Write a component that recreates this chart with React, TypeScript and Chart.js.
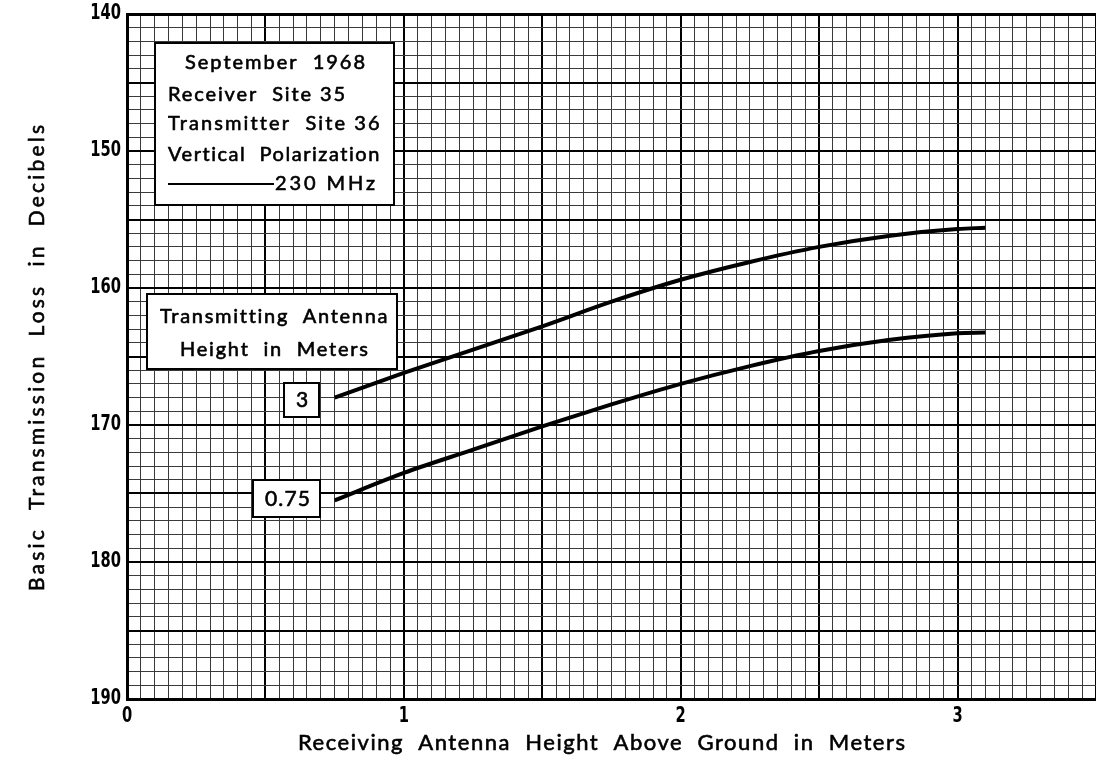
import React, { useEffect, useRef } from "react";
import { Chart, registerables } from "chart.js";

Chart.register(...registerables);

// ---------------- DATA ----------------
const receiverHeights = [0.75, 1.0, 1.25, 1.5, 1.75, 2.0, 2.25, 2.5, 2.75, 3.0, 3.1];
const lossTx3m = [168.0, 166.2, 164.5, 162.8, 161.0, 159.4, 158.1, 157.0, 156.2, 155.7, 155.6];
const lossTx075m = [175.5, 173.5, 171.8, 170.1, 168.5, 167.0, 165.7, 164.6, 163.8, 163.3, 163.25];
const seriesNames = ["3", "0.75"];
const infoLines = ["September  1968", "Receiver  Site 35", "Transmitter  Site 36", "Vertical  Polarization"];
const frequencyLabel = "230 MHz";
const legendTitleLines = ["Transmitting  Antenna", "Height  in  Meters"];
const xTitle = "Receiving  Antenna  Height  Above  Ground  in  Meters";
const yTitle = "Basic  Transmission  Loss  in  Decibels";
const xRange = [0, 3.5];
const yRange = [140, 190];
const xLabelValues = [0, 1, 2, 3];
const yLabelValues = [140, 150, 160, 170, 180, 190];

// ---------------- LAYOUT / STYLE ----------------
const W = 1096;
const H = 762;
const FONT = "'Lato', 'Open Sans', 'DejaVu Sans', sans-serif";
const NUM_FONT = "'DejaVu Sans', 'Liberation Sans', sans-serif";

const LAYOUT = {
  plotLeft: 127,
  plotTop: 14,
  plotBottom: 699,
  yLabelRight: 121,
  xLabelY: 717,
  numSize: 21,
  numSqueeze: 0.7,
  xTitle: { x: 298, y: 743, w: 607, size: 22 },
  yTitle: { x: 37, y: 358, w: 466, size: 21 },
  infoBox: { x0: 155, y0: 43, x1: 394, y1: 205 },
  infoText: [
    { x: 185, y: 63, w: 180 },
    { x: 168, y: 95, w: 177 },
    { x: 168, y: 124, w: 211 },
    { x: 168, y: 155, w: 212 },
  ],
  freqLine: { x0: 168, x1: 274, y: 184 },
  freqText: { x: 275, y: 184, w: 100 },
  legendBox: { x0: 147, y0: 294, x1: 397, y1: 369 },
  legendText: [
    { x: 160, y: 317, w: 227 },
    { x: 180, y: 350, w: 188 },
  ],
  tagBoxes: [
    { x0: 284, y0: 383, x1: 319, y1: 417, tx: 296, ty: 400, tw: 12 },
    { x0: 253, y0: 480, x1: 320, y1: 517, tx: 265, ty: 499, tw: 45 },
  ],
  textSize: 20,
  textStroke: 0.6,
};

function near(v: number, step: number) {
  return Math.abs(v / step - Math.round(v / step)) < 1e-6;
}

function drawFit(ctx: CanvasRenderingContext2D, text: string, x: number, y: number, width: number, size: number) {
  ctx.save();
  ctx.font = `normal ${size}px ${FONT}`;
  ctx.textBaseline = "middle";
  ctx.textAlign = "left";
  ctx.fillStyle = "#000";
  ctx.strokeStyle = "#000";
  ctx.lineWidth = LAYOUT.textStroke;
  const w = ctx.measureText(text).width;
  const n = text.length;
  if ("letterSpacing" in ctx && n > 1) {
    (ctx as any).letterSpacing = `${(width - w) / (n - 1)}px`;
  }
  ctx.fillText(text, x, y);
  ctx.strokeText(text, x, y);
  ctx.restore();
}

function drawNumber(ctx: CanvasRenderingContext2D, text: string, x: number, y: number, align: "right" | "center") {
  ctx.save();
  ctx.font = `bold ${LAYOUT.numSize}px ${NUM_FONT}`;
  ctx.textBaseline = "middle";
  ctx.textAlign = align;
  ctx.fillStyle = "#000";
  ctx.translate(x, y);
  ctx.scale(LAYOUT.numSqueeze, 1);
  ctx.fillText(text, 0, 0);
  ctx.restore();
}

function drawBox(ctx: CanvasRenderingContext2D, b: { x0: number; y0: number; x1: number; y1: number }) {
  ctx.save();
  ctx.fillStyle = "#fff";
  ctx.fillRect(b.x0, b.y0, b.x1 - b.x0, b.y1 - b.y0);
  ctx.strokeStyle = "#000";
  ctx.lineWidth = 2;
  ctx.strokeRect(b.x0, b.y0, b.x1 - b.x0, b.y1 - b.y0);
  ctx.restore();
}

const overlayPlugin = {
  id: "overlay",
  afterDraw(chart: any) {
    const ctx: CanvasRenderingContext2D = chart.ctx;
    const L = LAYOUT;
    const xs = chart.scales.x;
    const ys = chart.scales.y;

    // tick labels
    yLabelValues.forEach((v) => drawNumber(ctx, String(v), L.yLabelRight, ys.getPixelForValue(v), "right"));
    xLabelValues.forEach((v) => drawNumber(ctx, String(v), xs.getPixelForValue(v), L.xLabelY, "center"));

    // axis titles
    drawFit(ctx, xTitle, L.xTitle.x, L.xTitle.y, L.xTitle.w, L.xTitle.size);
    ctx.save();
    ctx.translate(L.yTitle.x, L.yTitle.y);
    ctx.rotate(-Math.PI / 2);
    drawFit(ctx, yTitle, -L.yTitle.w / 2, 0, L.yTitle.w, L.yTitle.size);
    ctx.restore();

    // info box
    drawBox(ctx, L.infoBox);
    infoLines.forEach((t, i) => {
      const p = L.infoText[i];
      drawFit(ctx, t, p.x, p.y, p.w, L.textSize);
    });
    ctx.save();
    ctx.strokeStyle = "#000";
    ctx.lineWidth = 2;
    ctx.beginPath();
    ctx.moveTo(L.freqLine.x0, L.freqLine.y);
    ctx.lineTo(L.freqLine.x1, L.freqLine.y);
    ctx.stroke();
    ctx.restore();
    drawFit(ctx, frequencyLabel, L.freqText.x, L.freqText.y, L.freqText.w, L.textSize);

    // legend title box
    drawBox(ctx, L.legendBox);
    legendTitleLines.forEach((t, i) => {
      const p = L.legendText[i];
      drawFit(ctx, t, p.x, p.y, p.w, L.textSize);
    });

    // series tags
    seriesNames.forEach((name, i) => {
      const b = L.tagBoxes[i];
      drawBox(ctx, b);
      drawFit(ctx, name, b.tx, b.ty, b.tw, 21);
    });
  },
};

export default function App() {
  const ref = useRef<HTMLCanvasElement | null>(null);

  useEffect(() => {
    if (!ref.current) return;
    const lineStyle = {
      borderColor: "#000",
      borderWidth: 4,
      pointRadius: 0,
      fill: false,
      tension: 0.4,
      cubicInterpolationMode: "monotone" as const,
    };
    const chart = new Chart(ref.current, {
      type: "line",
      data: {
        datasets: [
          {
            label: seriesNames[0],
            data: receiverHeights.map((x, i) => ({ x, y: lossTx3m[i] })),
            ...lineStyle,
          },
          {
            label: seriesNames[1],
            data: receiverHeights.map((x, i) => ({ x, y: lossTx075m[i] })),
            ...lineStyle,
          },
        ],
      },
      options: {
        responsive: false,
        animation: false,
        events: [],
        layout: { padding: { left: 0, top: LAYOUT.plotTop, right: 0, bottom: 0 } },
        plugins: {
          legend: { display: false },
          tooltip: { enabled: false },
          title: { display: false },
        },
        scales: {
          x: {
            type: "linear",
            min: xRange[0],
            max: xRange[1],
            afterFit: (s: any) => {
              s.height = H - LAYOUT.plotBottom;
            },
            border: { display: true, color: "#000", width: 3 },
            grid: {
              drawTicks: false,
              color: (c: any) => (near(c.tick.value, 0.5) ? "#000" : "#3a3a3a"),
              lineWidth: (c: any) => (near(c.tick.value, 0.5) ? 2 : 1),
            },
            ticks: {
              display: false,
              stepSize: 0.05,
              autoSkip: false,
              maxRotation: 0,
              minRotation: 0,
            },
          },
          y: {
            type: "linear",
            reverse: true,
            min: yRange[0],
            max: yRange[1],
            afterFit: (s: any) => {
              s.width = LAYOUT.plotLeft;
            },
            border: { display: true, color: "#000", width: 3 },
            grid: {
              drawTicks: false,
              color: (c: any) => (near(c.tick.value, 5) ? "#000" : "#3a3a3a"),
              lineWidth: (c: any) =>
                c.tick.value === yRange[0] ? 3 : near(c.tick.value, 5) ? 2 : 1,
            },
            ticks: {
              display: false,
              stepSize: 1,
              autoSkip: false,
            },
          },
        },
      },
      plugins: [overlayPlugin],
    } as any);
    return () => chart.destroy();
  }, []);

  return (
    <div style={{ position: "absolute", left: 0, top: 0, width: W, height: H, background: "#fff", overflow: "hidden" }}>
      <canvas ref={ref} width={W} height={H} style={{ display: "block", width: W, height: H }} />
    </div>
  );
}
